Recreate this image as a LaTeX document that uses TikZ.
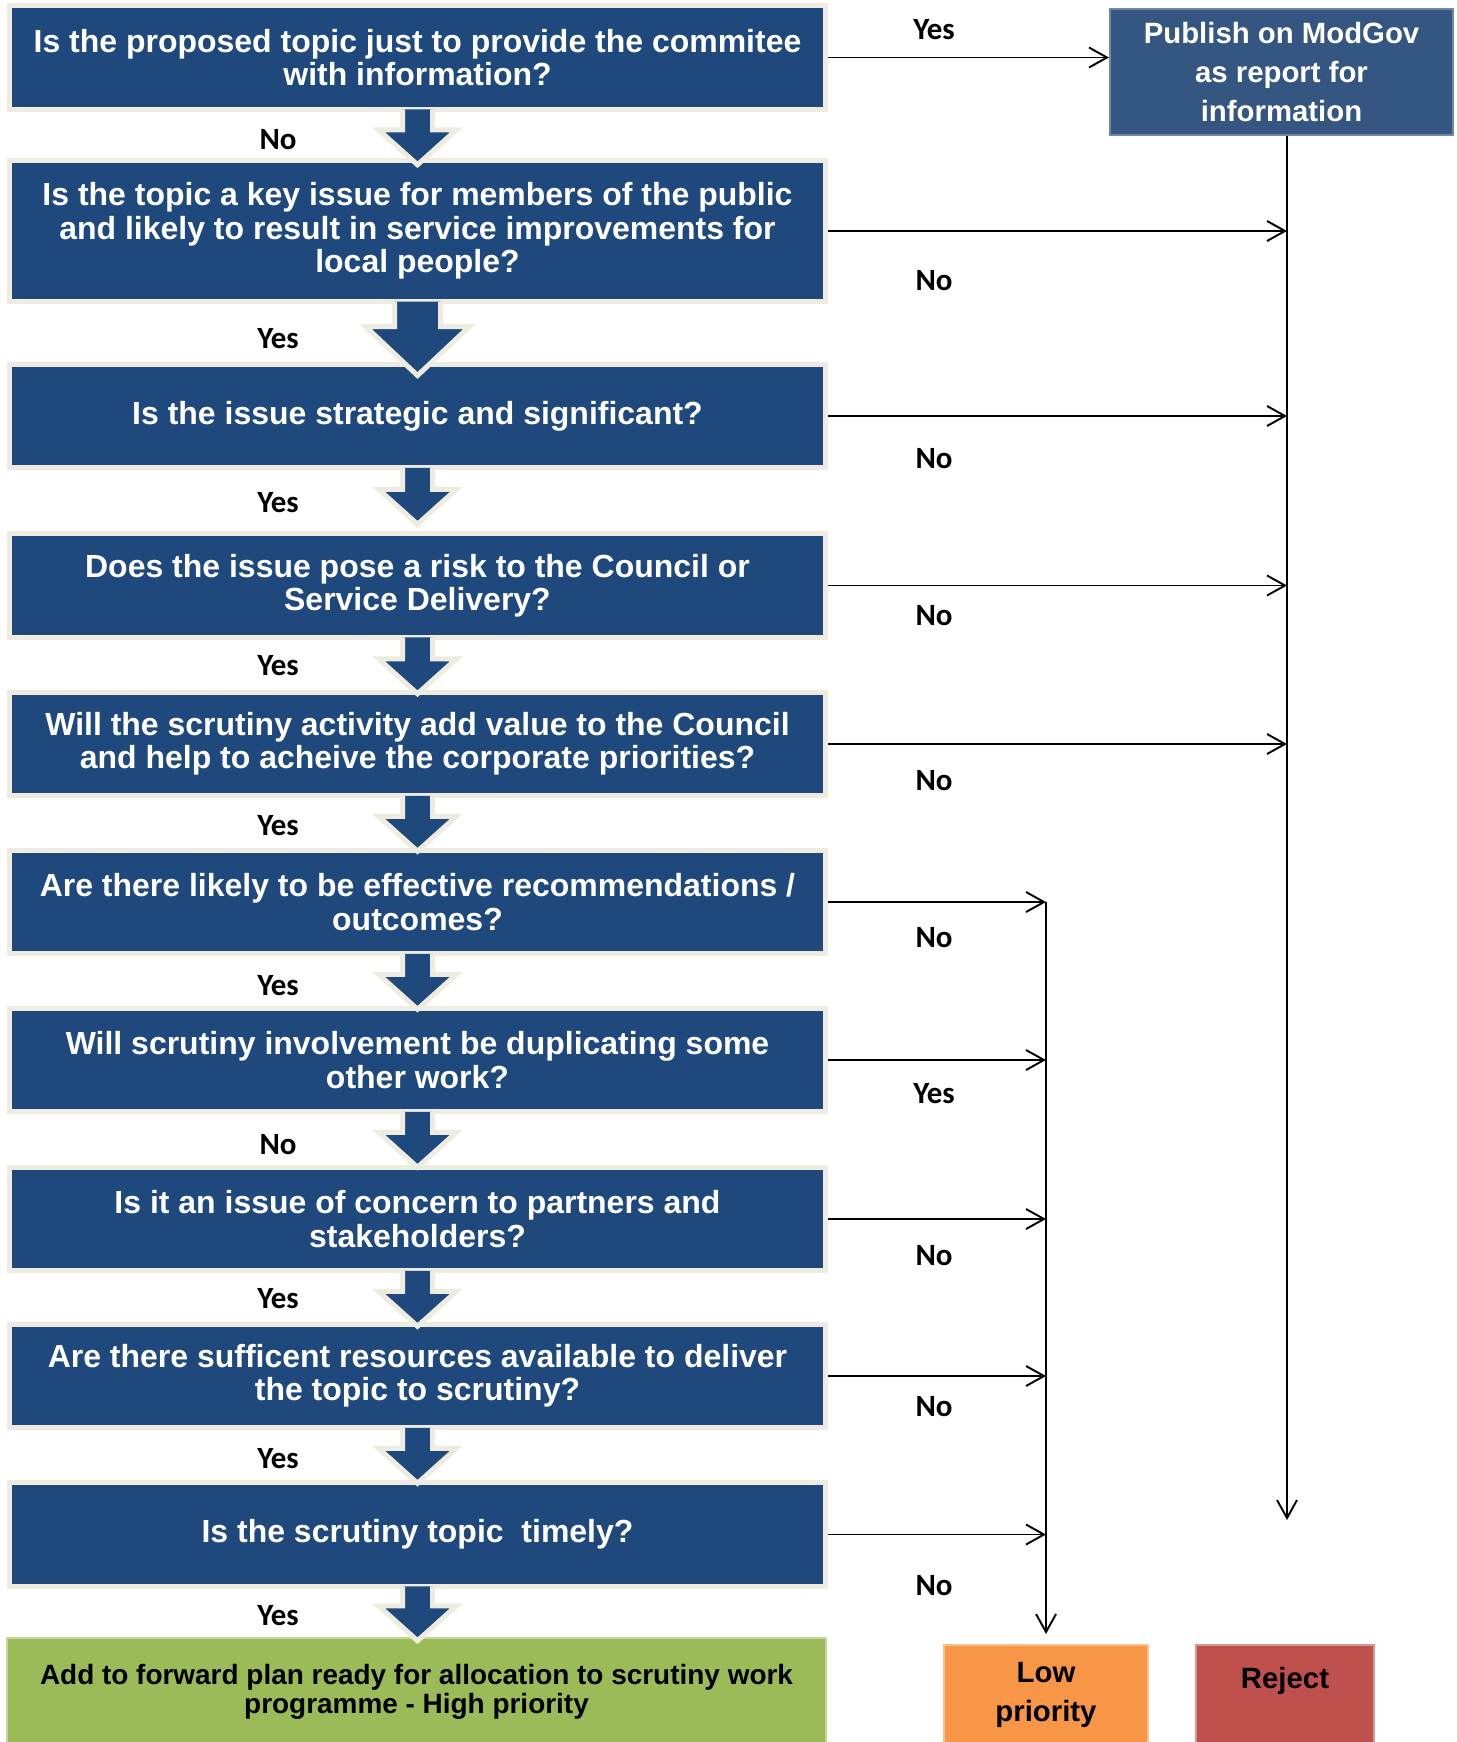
\documentclass[tikz,border=0pt]{standalone}
\usepackage{fontspec}
\setmainfont{Liberation Sans}
\newfontfamily\labelfont{Carlito}
\usetikzlibrary{arrows.meta}
\definecolor{boxblue}{HTML}{1F497D}
\definecolor{pubblue}{HTML}{345680}
\definecolor{boxedge}{HTML}{EEECE1}
\definecolor{plangreen}{HTML}{9BBB59}
\definecolor{loworange}{HTML}{F79646}
\definecolor{rejectred}{HTML}{C0504D}
\newcommand{\downblock}[5]{%
  \begin{scope}[shift={(#1.south)}]
    \draw[blockarrow] (-#2,0.05) -- (-#2,-#4) -- (-#3,-#4) -- (0,-#5) -- (#3,-#4) -- (#2,-#4) -- (#2,0.05);
  \end{scope}}
\tikzset{
  question/.style={draw=boxedge, line width=0.1cm, fill=boxblue, text=white, align=center, inner sep=0,
    font=\bfseries\fontsize{18.2}{19}\selectfont, minimum width=16.32cm, minimum height=2.07cm},
  blockarrow/.style={draw=boxedge, fill=boxblue, line width=0.1cm, line join=miter},
  answer/.style={font=\labelfont\bfseries\fontsize{17.6}{20}\selectfont},
  outcome/.style={align=center, inner sep=0, line width=0.04cm, font=\bfseries\fontsize{16.7}{22.2}\selectfont},
}

\begin{document}
\begin{tikzpicture}[>={Straight Barb[length=0.36cm,width=0.4cm]}, line width=1.1pt]
      \useasboundingbox (0,0) rectangle (29.12,-34.84);
      % Questions
      \node[question] (q1) at (8.35,-1.15) {Is the proposed topic just to provide the commitee\\with information?};
      \node[question, minimum height=2.82cm] (q2) at (8.35,-4.62) {Is the topic a key issue for members of the public\\and likely to result in service improvements for\\local people?};
      \node[question] (q3) at (8.35,-8.32) {Is the issue strategic and significant?};
      \node[question] (q4) at (8.35,-11.71) {Does the issue pose a risk to the Council or\\Service Delivery?};
      \node[question] (q5) at (8.35,-14.88) {Will the scrutiny activity add value to the Council\\and help to acheive the corporate priorities?};
      \node[question] (q6) at (8.35,-18.04) {Are there likely to be effective recommendations /\\outcomes?};
      \node[question] (q7) at (8.35,-21.20) {Will scrutiny involvement be duplicating some\\other work?};
      \node[question] (q8) at (8.35,-24.38) {Is it an issue of concern to partners and\\stakeholders?};
      \node[question] (q9) at (8.35,-27.52) {Are there sufficent resources available to deliver\\the topic to scrutiny?};
      \node[question] (q10) at (8.35,-30.69) {Is the scrutiny topic\ \ timely?};

      % Outcomes
      \node[outcome, fill=plangreen, draw=plangreen!60!white, font=\bfseries\fontsize{15.9}{16.5}\selectfont,
        minimum width=16.39cm, minimum height=2.14cm] (plan) at (8.33,-33.83) {Add to forward plan ready for allocation to scrutiny work\\programme - High priority};
      \node[outcome, fill=pubblue, draw=pubblue!70!white, text=white, minimum width=6.86cm, minimum height=2.52cm] (pub) at (25.63,-1.44) {Publish on ModGov\\as report for\\information};
      \node[outcome, fill=loworange, draw=loworange!60!white, minimum width=4.08cm, minimum height=2cm] (low) at (20.92,-33.90) {Low\\priority};
      \node[outcome, fill=rejectred, draw=rejectred!60!white, text depth=0.68cm, minimum width=3.56cm, minimum height=2cm] (reject) at (25.70,-33.90) {Reject};
      \coordinate (rejend) at (25.74,-30.40);

      % Block arrows down the middle
      \downblock{q1}{0.30}{0.78}{0.36}{1.06}
      \downblock{q2}{0.46}{1.04}{0.45}{1.43}
      \downblock{q3}{0.30}{0.78}{0.38}{1.08}
      \downblock{q4}{0.30}{0.78}{0.38}{1.08}
      \downblock{q5}{0.30}{0.78}{0.36}{1.06}
      \downblock{q6}{0.30}{0.78}{0.36}{1.06}
      \downblock{q7}{0.30}{0.78}{0.36}{1.06}
      \downblock{q8}{0.30}{0.78}{0.36}{1.06}
      \downblock{q9}{0.30}{0.78}{0.36}{1.06}
      \downblock{q10}{0.30}{0.78}{0.34}{1.04}

      % Answers on the block arrows
      \node[answer] (a1) at (5.56,-2.80) {No};
      \node[answer] (a2) at (5.56,-6.78) {Yes};
      \node[answer] (a3) at (5.56,-10.06) {Yes};
      \node[answer] (a4) at (5.56,-13.32) {Yes};
      \node[answer] (a5) at (5.56,-16.52) {Yes};
      \node[answer] (a6) at (5.56,-19.72) {Yes};
      \node[answer] (a7) at (5.56,-22.90) {No};
      \node[answer] (a8) at (5.56,-25.98) {Yes};
      \node[answer] (a9) at (5.56,-29.18) {Yes};
      \node[answer] (a10) at (5.56,-32.32) {Yes};

      % Side branches
      \draw[->] (q1.east) -- (q1.east -| pub.west);
      \node[answer] (b1) at (18.68,-0.60) {Yes};
      \draw[->] (pub.south -| rejend) -- (rejend);
      \draw[->] (q2.east) -- (q2.east -| rejend);
      \draw[->] (q3.east) -- (q3.east -| rejend);
      \draw[->] (q4.east) -- (q4.east -| rejend);
      \draw[->] (q5.east) -- (q5.east -| rejend);
      \node[answer] (b2) at (18.68,-5.62) {No};
      \node[answer] (b3) at (18.68,-9.18) {No};
      \node[answer] (b4) at (18.68,-12.32) {No};
      \node[answer] (b5) at (18.68,-15.62) {No};

      \draw[->, shorten >=0.2cm] (q6.east -| low.north) -- (low.north);
      \draw[->] (q6.east) -- (q6.east -| low.north);
      \draw[->] (q7.east) -- (q7.east -| low.north);
      \draw[->] (q8.east) -- (q8.east -| low.north);
      \draw[->] (q9.east) -- (q9.east -| low.north);
      \draw[->] (q10.east) -- (q10.east -| low.north);
      \node[answer] (b6) at (18.68,-18.76) {No};
      \node[answer] (b7) at (18.68,-21.88) {Yes};
      \node[answer] (b8) at (18.68,-25.12) {No};
      \node[answer] (b9) at (18.68,-28.14) {No};
      \node[answer] (b10) at (18.68,-31.72) {No};
    \end{tikzpicture}
\end{document}
